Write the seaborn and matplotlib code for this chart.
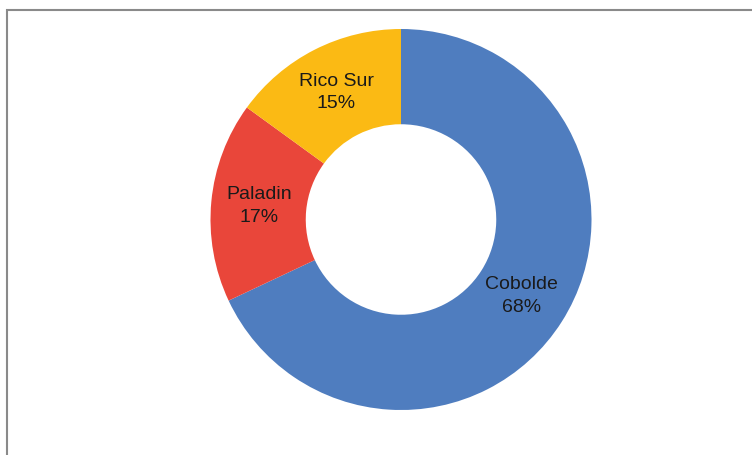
import matplotlib
matplotlib.use("Agg")
import matplotlib.pyplot as plt
import seaborn as sns
from matplotlib.patches import Rectangle

categories = ["Cobolde", "Paladin", "Rico Sur"]
values = [68, 17, 15]
colors = ["#4F7DBF", "#E9463A", "#FBBA14"]

sns.set_theme(style="white")
plt.rcParams['font.family'] = ['Liberation Sans', 'DejaVu Sans']

W, H = 752, 455
fig = plt.figure(figsize=(W / 100, H / 100), dpi=100)
fig.patch.set_facecolor("white")

cx, cy, r = 401, 219.5, 190.5
ax = fig.add_axes([(cx - r) / W, (H - cy - r) / H, 2 * r / W, 2 * r / H])

total = sum(values)
wedges, texts, autotexts = ax.pie(
    values, colors=colors, startangle=90, counterclock=False, radius=1,
    wedgeprops=dict(width=0.5, linewidth=0),
    autopct=lambda p: "", pctdistance=0.75,
)
for at, cat, v in zip(autotexts, categories, values):
    at.set_text(f"{cat}\n{round(100 * v / total)}%")
    at.set_fontsize(14)
    at.set_color("#1a1a1a")
    at.set_ha("center")
    at.set_va("center")
    at.set_linespacing(1.4)

ax.set_xlim(-1, 1)
ax.set_ylim(-1, 1)
ax.set_aspect("equal")
ax.axis("off")

# outer frame
fig.patches.append(Rectangle((6.5 / W, -0.1), 1.2, (H - 9.5) / H + 0.1,
                             transform=fig.transFigure, fill=False,
                             edgecolor="#8a8a8a", linewidth=1.5))

fig.savefig("out.png", dpi=100, facecolor="white")
